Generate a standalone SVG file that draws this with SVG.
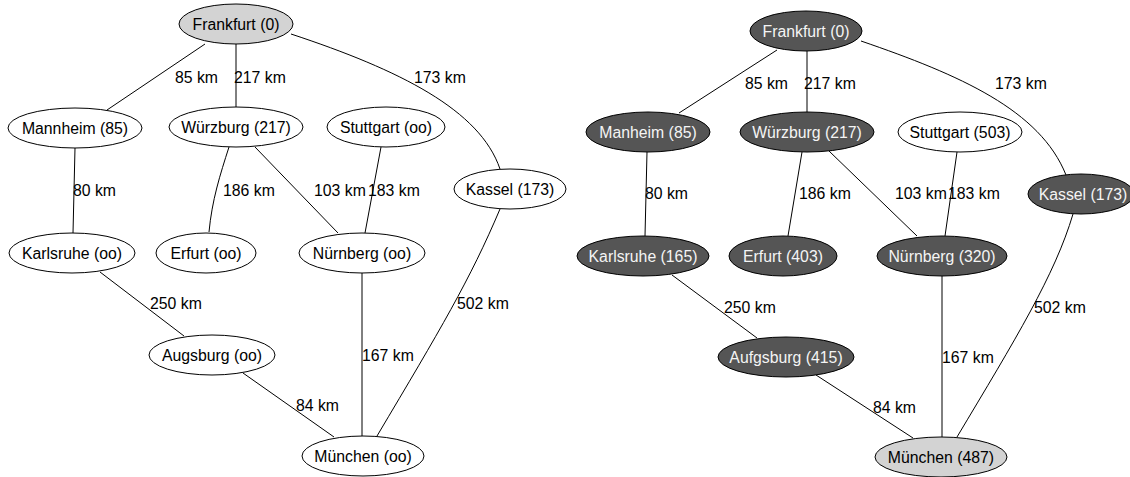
<svg xmlns="http://www.w3.org/2000/svg" width="1130" height="477" viewBox="0 0 1130 477">
<style>
  .n ellipse { stroke: #000; stroke-width: 1; fill: #fff; }
  .n.gray ellipse { fill: #d3d3d3; }
  .n.dark ellipse { fill: #555555; }
  .n text { font-family: "Liberation Sans", Arial, sans-serif; font-size: 15.8px; text-anchor: middle; fill: #000; }
  .n.dark text { fill: #f4f4f4; }
  .e path { stroke: #000; stroke-width: 1; fill: none; }
  .e text { font-family: "Liberation Sans", Arial, sans-serif; font-size: 15.8px; fill: #000; }
</style>
<rect width="1130" height="477" fill="#fff"/>

<!-- Left graph connectors -->
<g id="edges-left" class="e">
  <path d="M205,44 L107,110"/>
  <path d="M236,44 L236,107"/>
  <path d="M291,34 C400,70 480,110 500,169"/>
  <path d="M75,148 L73,233"/>
  <path d="M229,147 C220,175 212,200 209,232"/>
  <path d="M255,147 L338,233"/>
  <path d="M381,147 L365,233"/>
  <path d="M500,209 C470,280 440,330 377,436"/>
  <path d="M100,272 L184,336"/>
  <path d="M243,373 L334,437"/>
  <path d="M362,272 L362,436"/>
  <text x="175" y="83">85 km</text>
  <text x="234" y="83">217 km</text>
  <text x="414" y="83">173 km</text>
  <text x="73" y="196">80 km</text>
  <text x="223" y="196">186 km</text>
  <text x="314" y="196">103 km</text>
  <text x="368" y="196">183 km</text>
  <text x="150" y="309">250 km</text>
  <text x="457" y="309">502 km</text>
  <text x="362" y="361">167 km</text>
  <text x="296" y="411">84 km</text>
</g>

<!-- Left graph nodes -->
<g id="l-frankfurt" class="n gray"><ellipse cx="236" cy="24" rx="57" ry="20"/><text x="236" y="29.5">Frankfurt (0)</text></g>
<g id="l-mannheim" class="n"><ellipse cx="75" cy="128" rx="67" ry="20"/><text x="75" y="133.5">Mannheim (85)</text></g>
<g id="l-wuerzburg" class="n"><ellipse cx="236" cy="127" rx="67" ry="20"/><text x="236" y="132.5">Würzburg (217)</text></g>
<g id="l-stuttgart" class="n"><ellipse cx="386" cy="127" rx="59" ry="20"/><text x="386" y="132.5">Stuttgart (oo)</text></g>
<g id="l-kassel" class="n"><ellipse cx="510" cy="189" rx="56" ry="20"/><text x="510" y="194.5">Kassel (173)</text></g>
<g id="l-karlsruhe" class="n"><ellipse cx="72" cy="253" rx="63" ry="20"/><text x="72" y="258.5">Karlsruhe (oo)</text></g>
<g id="l-erfurt" class="n"><ellipse cx="206" cy="253" rx="50" ry="20"/><text x="206" y="258.5">Erfurt (oo)</text></g>
<g id="l-nuernberg" class="n"><ellipse cx="362" cy="253" rx="63" ry="20"/><text x="362" y="258.5">Nürnberg (oo)</text></g>
<g id="l-augsburg" class="n"><ellipse cx="212" cy="355" rx="63" ry="20"/><text x="212" y="360.5">Augsburg (oo)</text></g>
<g id="l-muenchen" class="n"><ellipse cx="363" cy="456" rx="61" ry="20"/><text x="363" y="461.5">München (oo)</text></g>

<!-- Right graph connectors -->
<g id="edges-right" class="e">
  <path d="M777,50 L679,113"/>
  <path d="M807,51 L807,112"/>
  <path d="M861,41 C960,75 1040,110 1066,175"/>
  <path d="M647,152 L645,236"/>
  <path d="M802,152 L788,236"/>
  <path d="M829,151 L917,236"/>
  <path d="M957,152 L945,236"/>
  <path d="M1073,214 C1055,275 1015,340 957,437"/>
  <path d="M672,275 L757,338"/>
  <path d="M816,375 L913,438"/>
  <path d="M942,276 L942,437"/>
  <text x="745" y="89">85 km</text>
  <text x="804" y="89">217 km</text>
  <text x="995" y="89">173 km</text>
  <text x="645" y="199">80 km</text>
  <text x="799" y="199">186 km</text>
  <text x="895" y="199">103 km</text>
  <text x="948" y="199">183 km</text>
  <text x="724" y="313">250 km</text>
  <text x="1034" y="313">502 km</text>
  <text x="942" y="363">167 km</text>
  <text x="873" y="413">84 km</text>
</g>

<!-- Right graph nodes -->
<g id="r-frankfurt" class="n dark"><ellipse cx="806" cy="31" rx="56" ry="20"/><text x="806" y="36.5">Frankfurt (0)</text></g>
<g id="r-manheim" class="n dark"><ellipse cx="648" cy="132" rx="62" ry="20"/><text x="648" y="137.5">Manheim (85)</text></g>
<g id="r-wuerzburg" class="n dark"><ellipse cx="807" cy="132" rx="67" ry="20"/><text x="807" y="137.5">Würzburg (217)</text></g>
<g id="r-stuttgart" class="n"><ellipse cx="960" cy="132" rx="62" ry="20"/><text x="960" y="137.5">Stuttgart (503)</text></g>
<g id="r-kassel" class="n dark"><ellipse cx="1081" cy="194" rx="53" ry="20"/><text x="1083" y="199.5">Kassel (173)</text></g>
<g id="r-karlsruhe" class="n dark"><ellipse cx="643" cy="256" rx="66" ry="20"/><text x="643" y="261.5">Karlsruhe (165)</text></g>
<g id="r-erfurt" class="n dark"><ellipse cx="783" cy="256" rx="54" ry="20"/><text x="783" y="261.5">Erfurt (403)</text></g>
<g id="r-nuernberg" class="n dark"><ellipse cx="942" cy="256" rx="65" ry="20"/><text x="942" y="261.5">Nürnberg (320)</text></g>
<g id="r-aufgsburg" class="n dark"><ellipse cx="786" cy="357" rx="68" ry="20"/><text x="786" y="362.5">Aufgsburg (415)</text></g>
<g id="r-muenchen" class="n gray"><ellipse cx="941" cy="457" rx="66" ry="20"/><text x="941" y="462.5">München (487)</text></g>
</svg>
